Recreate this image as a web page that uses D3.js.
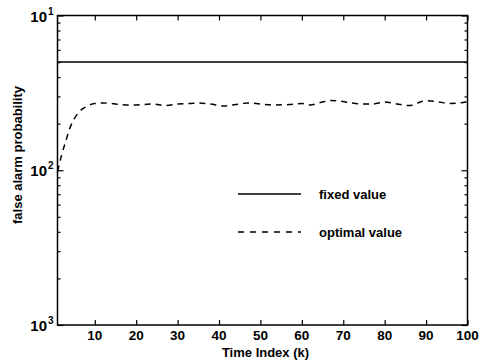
<!DOCTYPE html>
<html><head><meta charset="utf-8">
<script src="https://cdn.jsdelivr.net/npm/d3@7"></script>
<style>
body{margin:0;background:#fff}
svg{display:block;background:#fff}
text{font-family:"Liberation Sans",Arial,Helvetica,sans-serif;font-weight:bold;fill:#000}
</style></head>
<body><svg id="c" width="487" height="360"></svg>
<script>
// ---- data ----
const xTicks = [10, 20, 30, 40, 50, 60, 70, 80, 90, 100];
const yTickValues = [1e-1, 1e-2, 1e-3];
const yTickExponents = ["1", "2", "3"];
const fixedK = [1, 100];
const fixedValues = [0.05, 0.05];
const optimalK = [1, 2, 3, 4, 5, 6, 7, 8, 9, 10, 12, 14, 16, 18, 20, 22, 24, 27, 30, 33, 35, 38, 41, 44, 47, 50, 53, 57, 60, 62, 65, 67, 69, 72, 75, 77, 80, 83, 86, 88, 90, 93, 96, 98, 100];
const optimalValues = [0.0098, 0.01255, 0.01545, 0.01875, 0.0214, 0.0234, 0.0249, 0.0258, 0.0266, 0.0270, 0.0272, 0.0270, 0.0266, 0.0264, 0.0264, 0.0266, 0.0268, 0.0262, 0.0268, 0.0270, 0.0272, 0.0268, 0.0260, 0.0266, 0.0272, 0.0268, 0.0264, 0.0266, 0.0270, 0.0264, 0.0276, 0.0282, 0.0280, 0.0272, 0.0268, 0.0268, 0.0276, 0.0268, 0.0262, 0.0272, 0.0282, 0.0276, 0.0270, 0.0272, 0.0278];
const legendLabels = ["fixed value", "optimal value"];
const xLabel = "Time Index (k)";
const yLabel = "false alarm probability";

// ---- layout ----
const L = 57.5, R = 467.5, T = 15.5, B = 325;
const svg = d3.select("#c");
const x = d3.scaleLinear().domain([1, 100]).range([L, R]);
const y = d3.scaleLog().domain([1e-3, 1e-1]).range([B, T]);

// minor log ticks
const minor = [];
[1e-3, 1e-2].forEach(d => { for (let m = 2; m <= 9; m++) minor.push(d * m); });

// x ticks bottom & top
svg.append("g").attr("transform", `translate(0,${B})`).call(d3.axisBottom(x).tickValues(xTicks).tickSize(-5).tickFormat(""));
svg.append("g").attr("transform", `translate(0,${T})`).call(d3.axisTop(x).tickValues(xTicks).tickSize(-5).tickFormat(""));
// y ticks left & right
svg.append("g").attr("transform", `translate(${L},0)`).call(d3.axisLeft(y).tickValues(yTickValues).tickSize(-6).tickFormat(""));
svg.append("g").attr("transform", `translate(${L},0)`).call(d3.axisLeft(y).tickValues(minor).tickSize(-3).tickFormat(""));
svg.append("g").attr("transform", `translate(${R},0)`).call(d3.axisRight(y).tickValues(yTickValues).tickSize(-6).tickFormat(""));
svg.append("g").attr("transform", `translate(${R},0)`).call(d3.axisRight(y).tickValues(minor).tickSize(-3).tickFormat(""));
svg.selectAll(".domain").remove();
svg.selectAll(".tick line").attr("stroke", "#000").attr("stroke-width", 1.2);

// box
svg.append("rect").attr("x", L).attr("y", T).attr("width", R - L).attr("height", B - T)
  .attr("fill", "none").attr("stroke", "#000").attr("stroke-width", 1.5);

// x tick labels
svg.append("g").selectAll("text").data(xTicks).join("text")
  .attr("x", d => x(d)).attr("y", 340).attr("text-anchor", "middle")
  .attr("font-size", 13.5).text(d => d);

// y tick labels
yTickValues.forEach((v, i) => {
  svg.append("text").attr("x", 47).attr("y", y(v) + 6).attr("text-anchor", "end").attr("font-size", 15).text("10");
  svg.append("text").attr("x", 48).attr("y", y(v) - 1).attr("font-size", 10).text(yTickExponents[i]);
});

// axis labels
svg.append("text").attr("x", (x(1) + x(100)) / 2 + 3).attr("y", 357).attr("text-anchor", "middle")
  .attr("font-size", 13).text(xLabel);
svg.append("text").attr("transform", "translate(22,155) rotate(-90)").attr("text-anchor", "middle")
  .attr("font-size", 13).text(yLabel);

// lines
const line = d3.line().x(d => x(d[0])).y(d => y(d[1]));
svg.append("path").datum(fixedK.map((k, i) => [k, fixedValues[i]]))
  .attr("d", line).attr("fill", "none").attr("stroke", "#000").attr("stroke-width", 1.5);
svg.append("path").datum(optimalK.map((k, i) => [k, optimalValues[i]]))
  .attr("d", line.curve(d3.curveMonotoneX)).attr("fill", "none").attr("stroke", "#000")
  .attr("stroke-width", 1.5).attr("stroke-dasharray", "6,5");

// legend
const lg = [{y: 194, dash: null}, {y: 232, dash: "6,6"}];
lg.forEach((g, i) => {
  const l = svg.append("line").attr("x1", 238).attr("x2", 301).attr("y1", g.y).attr("y2", g.y)
    .attr("stroke", "#000").attr("stroke-width", 1.3);
  if (g.dash) l.attr("stroke-dasharray", g.dash);
  svg.append("text").attr("x", 319).attr("y", g.y + 5).attr("font-size", 13).text(legendLabels[i]);
});
</script></body></html>
